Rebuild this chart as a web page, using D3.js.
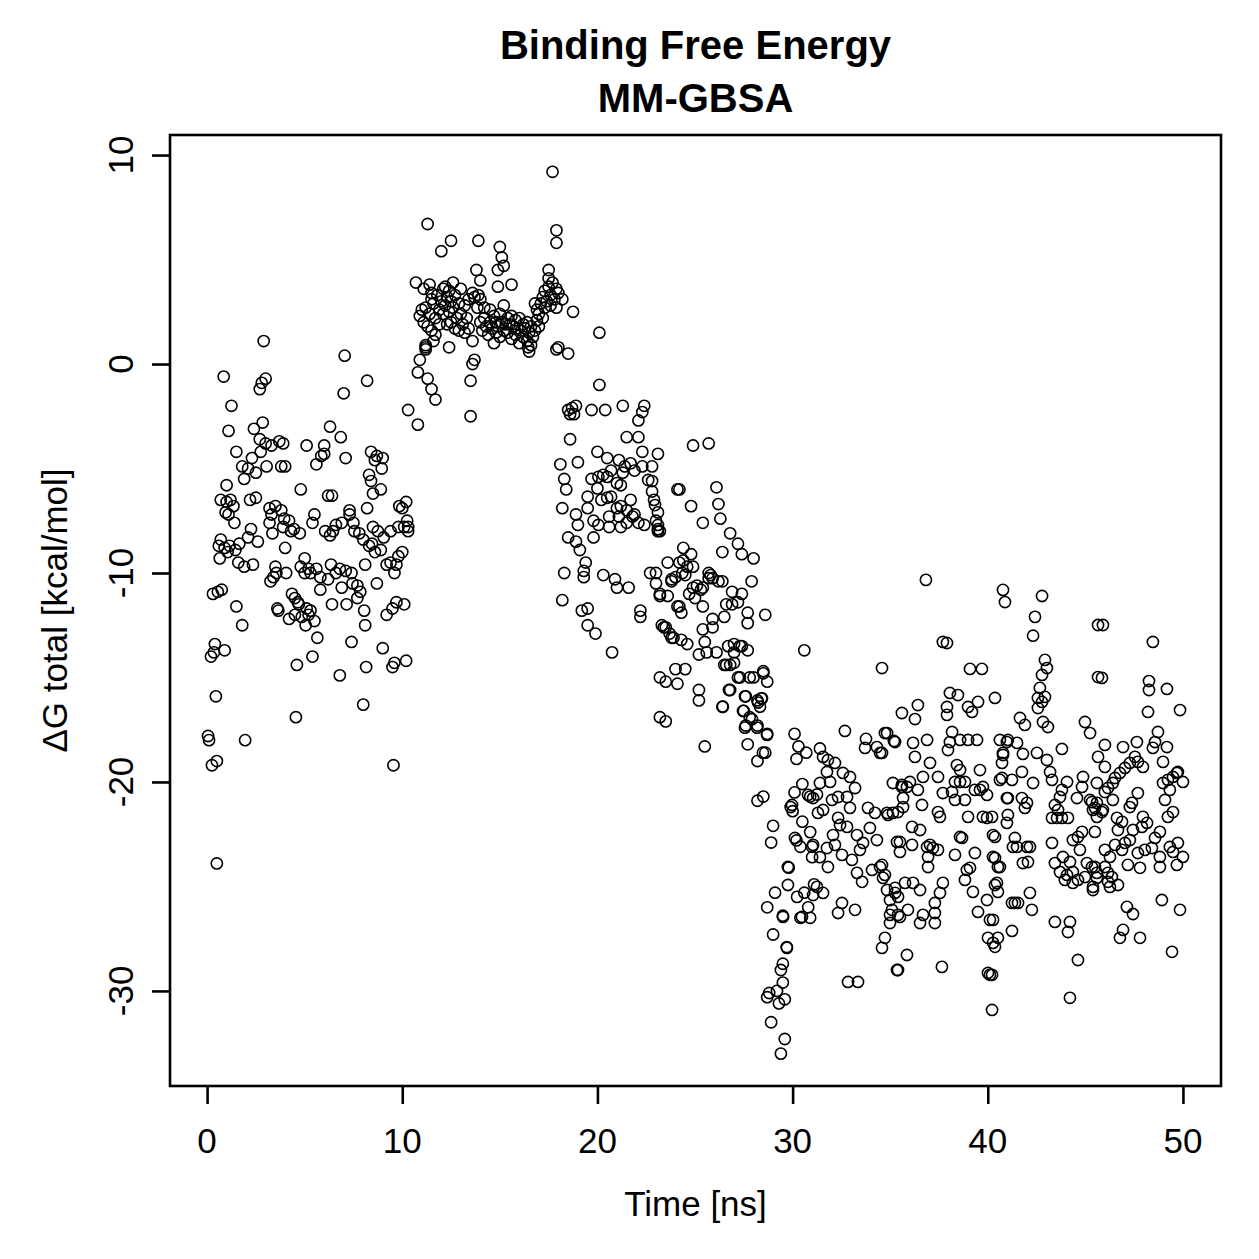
<!DOCTYPE html>
<html>
<head>
<meta charset="utf-8">
<script src="https://cdn.jsdelivr.net/npm/d3@7"></script>
<style>
html,body{margin:0;padding:0;background:#fff;}
svg{display:block;}
text{font-family:"Liberation Sans",Arial,Helvetica,sans-serif;fill:#000;}
</style>
</head>
<body>
<svg id="chart" width="1259" height="1259"></svg>
<script>
// ---- data (time in ns, ΔG total in kcal/mol) ----
const titleLines = ["Binding Free Energy", "MM-GBSA"];
const xLabel = "Time [ns]";
const yLabel = "ΔG total [kcal/mol]";
const xTicks = [0, 10, 20, 30, 40, 50];
const yTicks = [-30, -20, -10, 0, 10];

const seg0to10 = [
[0.05,-17.8],[0.1,-18.0],[0.2,-14.0],[0.25,-19.2],[0.3,-11.0],[0.35,-13.8],[0.4,-13.4],[0.45,-15.9],[0.5,-23.9],[0.5,-19.0],[0.55,-10.9],[0.6,-8.7],[0.65,-9.3],[0.7,-6.5],[0.7,-8.4],[0.75,-10.8],[0.85,-0.6],[0.9,-8.8],[0.9,-13.7],[0.95,-7.1],[1.0,-5.8],[1.0,-6.6],[1.05,-9.0],[1.1,-3.2],[1.1,-7.2],[1.15,-8.7],[1.2,-6.5],[1.25,-2.0],[1.35,-6.8],[1.4,-7.6],[1.45,-8.9],[1.5,-4.2],[1.5,-11.6],[1.6,-9.5],[1.65,-8.6],[1.8,-4.9],[1.8,-12.5],[1.9,-5.5],[1.9,-9.7],[1.95,-18.0],[2.1,-5.0],[2.1,-8.3],[2.2,-6.5],[2.25,-7.9],[2.3,-4.5],[2.35,-9.6],[2.4,-3.1],[2.5,-5.2],[2.5,-6.4],[2.6,-8.5],[2.7,-1.2],[2.7,-3.6],[2.75,-4.2],[2.8,-0.9],[2.85,-2.8],[2.9,1.1],[3.0,-0.7],[3.0,-3.8],[3.05,-4.9],[3.2,-6.9],[3.2,-7.6],[3.25,-10.4],[3.3,-7.2],[3.3,-3.9],[3.35,-8.1],[3.4,-10.2],[3.5,-6.8],[3.5,-9.7],[3.55,-10.0],[3.6,-11.7],[3.65,-11.8],[3.7,-3.7],[3.8,-7.0],[3.8,-4.9],[3.9,-3.8],[3.9,-7.8],[3.95,-7.4],[4.0,-4.9],[4.0,-8.8],[4.05,-10.0],[4.2,-7.5],[4.2,-12.2],[4.3,-8.0],[4.35,-11.0],[4.45,-7.9],[4.5,-12.0],[4.5,-11.2],[4.55,-16.9],[4.6,-14.4],[4.65,-11.4],[4.7,-11.5],[4.75,-8.1],[4.8,-6.0],[4.8,-9.7],[4.85,-12.1],[5.0,-9.3],[5.0,-10.0],[5.05,-12.5],[5.1,-11.7],[5.1,-3.9],[5.2,-9.8],[5.2,-12.0],[5.3,-10.0],[5.3,-11.8],[5.4,-7.6],[5.4,-14.0],[5.5,-7.2],[5.5,-12.3],[5.6,-4.8],[5.6,-9.8],[5.65,-13.1],[5.8,-10.2],[5.8,-10.8],[5.85,-4.4],[6.0,-3.9],[6.0,-4.3],[6.05,-8.0],[6.2,-10.3],[6.2,-6.3],[6.3,-3.0],[6.3,-8.2],[6.35,-9.6],[6.4,-6.3],[6.4,-11.5],[6.45,-8.0],[6.6,-10.0],[6.6,-7.7],[6.8,-9.8],[6.8,-14.9],[6.85,-3.5],[6.9,-10.7],[6.9,-7.6],[7.0,-1.4],[7.05,0.4],[7.1,-4.5],[7.1,-9.9],[7.15,-11.5],[7.3,-7.2],[7.3,-7.0],[7.4,-10.0],[7.4,-13.3],[7.45,-10.5],[7.5,-7.6],[7.55,-8.0],[7.7,-11.2],[7.7,-10.6],[7.8,-8.1],[7.85,-10.9],[8.0,-8.4],[8.0,-16.3],[8.05,-11.8],[8.1,-9.6],[8.1,-12.5],[8.15,-14.5],[8.2,-0.8],[8.2,-6.9],[8.3,-5.3],[8.3,-8.7],[8.4,-4.2],[8.4,-5.6],[8.45,-8.6],[8.5,-6.2],[8.5,-7.8],[8.6,-9.0],[8.6,-4.6],[8.7,-4.4],[8.7,-10.5],[8.75,-8.0],[8.9,-6.0],[8.9,-8.9],[8.95,-5.0],[9.0,-13.6],[9.0,-4.5],[9.05,-8.3],[9.2,-12.0],[9.2,-9.6],[9.4,-8.0],[9.4,-9.5],[9.5,-11.7],[9.5,-14.5],[9.55,-19.2],[9.6,-14.3],[9.6,-10.0],[9.7,-9.6],[9.7,-11.4],[9.8,-7.8],[9.8,-9.2],[9.85,-6.8],[10.0,-9.0],[10.0,-6.9],[10.1,-11.5],[10.1,-7.8],[10.2,-14.2],[10.2,-6.6],[10.25,-7.5],[10.3,-8.0],[10.3,-7.8]
];

const seg10to18 = [
[17.7,9.2],[11.3,6.7],[12.5,5.9],[12.0,5.4],[13.9,5.9],[15.0,5.6],[15.1,5.1],[15.2,4.7],[17.9,6.4],[17.9,5.8],[10.7,3.9],[13.8,4.5],[14.0,4.0],[14.9,4.5],[15.6,3.8],[14.9,3.7],[17.5,4.5],[17.5,4.1],[12.6,3.9],[11.5,3.4],[18.75,2.5],[20.1,1.5],[16.8,2.9],[18.0,3.4],[18.2,3.1],[11.2,0.8],[10.9,0.2],[10.8,-0.4],[11.3,-0.7],[11.5,-1.2],[11.7,-1.7],[10.3,-2.2],[10.8,-2.9],[13.5,-2.5],[13.5,-0.8],[13.7,0.2],[13.6,0.0],[12.4,0.8],[13.6,1.1],[18.0,0.8],[18.5,0.5],[16.5,0.6],[16.45,0.8],[11.6,1.1],[11.7,1.4],[14.7,1.0],
[10.9,2.3],[11.0,2.6],[11.1,2.0],[11.2,2.7],[11.3,1.8],[11.4,2.4],[11.5,3.1],[11.5,1.6],[11.6,2.9],[11.7,2.2],[11.8,3.3],[11.9,2.6],[11.9,1.9],
[12.0,3.0],[12.1,2.4],[12.1,3.6],[12.2,2.8],[12.3,3.2],[12.3,1.9],[12.4,2.5],[12.5,3.0],[12.5,2.0],[12.6,2.7],[12.7,3.3],[12.7,1.7],[12.8,2.2],[12.9,2.9],[12.9,1.6],[13.0,2.4],[13.0,3.6],[13.1,1.9],[13.2,2.8],[13.2,1.5],[13.3,2.2],[13.4,3.1],[13.4,1.7],
[13.6,3.4],[13.7,3.2],[13.9,3.3],[14.0,3.1],[14.2,2.7],[13.85,2.7],
[14.0,2.0],[14.1,1.6],[14.2,2.2],[14.3,1.8],[14.4,1.4],[14.5,2.0],[14.5,2.6],[14.6,1.7],[14.7,2.3],[14.8,1.5],[14.8,2.0],[14.9,1.8],[15.0,2.4],[15.0,1.3],[15.1,2.0],[15.2,1.6],[15.2,2.8],[15.3,1.9],
[15.4,2.2],[15.4,1.5],[15.5,1.9],[15.6,2.3],[15.6,1.2],[15.7,1.8],[15.8,2.1],[15.8,1.4],[15.9,1.7],[16.0,2.2],[16.0,1.0],[16.1,1.6],[16.2,1.9],[16.2,1.3],[16.3,1.7],[16.4,1.1],[16.4,2.0],[16.5,1.5],[16.6,0.9],[16.6,1.8],[16.7,1.3],[16.8,1.6],
[16.9,2.1],[16.9,2.6],[17.0,1.8],[17.0,2.4],[17.1,2.9],[17.2,2.2],[17.2,3.2],[17.3,2.7],[17.3,3.5],[17.4,3.0],[17.5,3.7],[17.6,3.3],[17.6,2.8],[17.7,3.9],[17.8,3.1],[17.9,3.6],[17.9,2.7],
[11.1,3.6],[11.4,3.8],[12.2,3.7],[12.4,3.5],[11.2,0.7],[11.2,0.9],[17.9,0.7]
];

const seg18to30 = [
[18.5,-2.2],[18.6,-2.4],[18.7,-2.1],[18.8,-2.4],[18.9,-2.0],[19.7,-2.2],[20.1,-1.0],[20.4,-2.2],[21.3,-2.0],[22.4,-2.0],[22.3,-2.3],[22.1,-2.7],
[18.6,-3.6],[21.5,-3.5],[22.1,-3.5],[20.0,-4.2],[20.5,-4.5],[18.1,-4.8],[19.0,-4.7],[22.3,-4.2],[23.1,-4.3],[21.1,-4.6],[21.3,-5.2],
[19.7,-5.5],[20.05,-5.4],[20.3,-5.3],[20.5,-5.4],[20.7,-5.1],[21.0,-5.7],[21.2,-5.8],[21.4,-4.9],[21.7,-4.75],[21.9,-5.1],[22.3,-4.9],[22.6,-5.55],[22.8,-6.1],[22.9,-6.5],[22.95,-6.75],[23.1,-7.1],[19.5,-6.35],[20.0,-5.95],[20.2,-6.5],[20.5,-6.4],[20.7,-6.35],[19.5,-6.9],[19.8,-7.5],[20.05,-7.7],[20.6,-7.3],[20.6,-7.8],[21.0,-6.9],[21.2,-6.8],[21.5,-7.0],[21.7,-6.5],[21.8,-7.3],[21.9,-7.2],[22.1,-7.6],[22.4,-7.7],[21.2,-7.8],[21.5,-7.6],[23.1,-7.7],[23.1,-8.0],[21.1,-7.3],
[24.1,-6.0],[18.3,-5.5],[18.4,-6.0],[18.2,-6.9],[18.9,-7.2],[19.0,-7.7],[18.5,-8.3],[18.9,-8.5],[19.1,-8.9],[23.2,-8.0],[19.8,-8.3],[19.4,-9.5],[19.3,-9.9],[19.3,-10.2],[18.3,-10.0],[20.3,-10.1],[20.9,-10.3],[21.0,-10.7],[21.6,-10.7],[18.2,-11.3],[19.2,-11.8],[19.5,-11.7],[19.5,-12.5],[19.9,-12.9],[20.75,-13.8],[22.2,-11.8],[22.2,-12.1],[22.7,-10.0],[23.0,-10.5],[23.6,-9.5],[23.2,-11.1],[23.6,-11.1],[23.8,-10.4],[23.4,-12.6],[23.7,-12.9],[23.9,-13.1],[24.2,-9.5],[24.1,-11.6],
[24.9,-3.9],[25.7,-3.8],[24.2,-6.0],[26.1,-5.9],[24.8,-6.8],[26.2,-6.7],[26.3,-7.4],[25.4,-7.6],[26.8,-8.1],[27.2,-8.6],[26.4,-9.0],[28.0,-9.3],[27.4,-9.1],[27.9,-10.4],[28.6,-12.0],[24.4,-8.8],[24.8,-9.1],[24.4,-9.4],[24.6,-9.7],[24.9,-9.7],[23.8,-10.3],[23.2,-11.0],[25.7,-10.0],[26.4,-10.4],[25.1,-10.6],[25.4,-10.7],[24.7,-11.0],[25.0,-11.2],[25.4,-11.6],[24.2,-11.6],[24.3,-11.9],[26.9,-11.5],[27.7,-11.9],[27.7,-12.4],[26.5,-12.1],[25.9,-12.2],[25.9,-12.6],[25.4,-12.7],[23.3,-12.5],[23.5,-12.6],[23.8,-13.1],[24.3,-13.2],[24.6,-13.4],[25.2,-13.9],[25.6,-13.8],[26.1,-13.8],[26.5,-14.4],[26.8,-14.4],[27.0,-13.8],[27.3,-13.5],[27.7,-13.7],[25.5,-13.3],[23.2,-15.0],[23.5,-15.2],[24.0,-14.6],[24.1,-15.3],[24.5,-14.6],[25.2,-15.6],[25.2,-16.1],[26.4,-16.4],[26.8,-15.6],[27.2,-15.0],[27.8,-15.0],[28.5,-14.7],[28.7,-15.2],[27.6,-15.9],[27.5,-16.6],[28.2,-16.1],[28.4,-16.0],[27.8,-16.9],[28.2,-17.3],[28.7,-17.7],[27.6,-17.3],[27.7,-18.2],[28.6,-18.6],[28.2,-19.0],[23.2,-16.9],[23.5,-17.1],[25.5,-18.3],
[22.8,-4.9],[22.8,-5.6],[23.0,-7.5],[23.1,-7.9],[23.0,-10.0],[24.0,-10.2],[24.35,-10.0],[24.5,-10.1],[24.9,-10.7],[25.3,-10.8],[25.7,-10.25],[25.9,-10.25],[26.2,-10.4],[25.8,-10.1],[26.9,-10.9],[27.4,-11.0],[27.2,-11.4],[26.6,-11.5],
[26.7,-13.5],[27.0,-13.4],[27.4,-13.5],[26.6,-14.4],[27.0,-14.3],[27.3,-15.0],[28.0,-15.0],[28.5,-14.8],
[26.74,-15.6],[26.43,-16.4],[27.56,-15.9],[27.46,-16.6],[27.92,-17.0],[27.56,-17.4],[28.23,-16.2],[28.43,-16.0],[28.33,-16.4],[28.18,-17.4],[28.69,-17.75],[28.48,-18.6],
[28.2,-20.9],[28.5,-20.7],[29.0,-22.1],[28.9,-22.9],[29.8,-24.1],[29.1,-25.3],[28.7,-26.0],[29.5,-26.4],[29.0,-27.3],[29.7,-27.9],[29.5,-28.7],[29.4,-29.0],[29.5,-29.6],[28.8,-30.1],[28.7,-30.3],[29.3,-30.6],[29.6,-30.4],[29.2,-30.0],[28.9,-31.5],[29.6,-32.3],[29.4,-33.0],[30.6,-13.7]
];

const seg30to40 = [
[30.1,-17.7],[30.3,-18.3],[30.2,-18.9],[30.7,-18.6],[31.4,-18.4],[30.1,-20.5],[30.5,-20.1],[30.9,-20.7],[31.25,-20.6],[31.4,-20.05],[29.9,-21.2],[30.0,-21.4],[30.5,-21.9],[30.9,-22.4],[30.2,-22.8],[30.4,-23.1],[31.0,-23.1],[31.0,-23.6],[31.4,-23.6],[30.6,-25.3],[30.8,-26.0],[30.4,-26.5],[30.9,-26.5],[31.1,-24.9],
[32.68,-17.56],[33.76,-17.94],[33.71,-18.37],[34.32,-18.33],[34.48,-18.61],[34.84,-17.66],[35.19,-18.04],[35.6,-16.7],[31.56,-18.8],[31.81,-18.95],[32.17,-19.09],[31.76,-19.52],[32.58,-19.57],[32.94,-19.76],[33.2,-20.29],[30.79,-20.62],[31.05,-20.77],[31.92,-20.0],[35.14,-20.05],[35.6,-20.14],[35.86,-20.24],[29.97,-21.1],[31.3,-21.48],[31.56,-21.34],[32.02,-20.86],[32.33,-20.72],[32.79,-20.72],[32.94,-21.24],[33.86,-21.24],[34.22,-21.48],[34.89,-21.58],[35.4,-21.44],[35.66,-21.2],[32.33,-21.72],[32.43,-22.06],[32.79,-22.15],[30.12,-22.68],[31.05,-23.01],[31.76,-23.16],[32.07,-22.54],[32.17,-23.01],[33.3,-22.54],[33.61,-22.92],[33.96,-22.2],[34.32,-22.78],[33.45,-23.25],[35.35,-22.87],[35.5,-23.35],[31.81,-24.07],[32.53,-23.49],[33.04,-23.73],[33.3,-24.35],[29.76,-24.07],[33.56,-24.78],[34.07,-24.21],[34.48,-24.07],[34.63,-24.59],[34.84,-25.17],[35.25,-25.31],[29.76,-24.93],[30.23,-25.5],[31.25,-25.02],[31.56,-25.31],[31.05,-25.41],[29.51,-26.46],[30.48,-26.46],[32.33,-26.27],[32.53,-25.79],[33.2,-26.12],[35.09,-26.12],[35.4,-26.36],[34.99,-26.75],[34.73,-27.46],[34.58,-27.94],[29.71,-27.94],[35.4,-29.0],[32.84,-29.57],[33.35,-29.57],
[36.83,-10.33],[37.7,-13.3],[37.91,-13.35],[34.58,-14.55],[39.09,-14.59],[39.7,-14.59],[38.06,-15.74],[38.47,-15.84],[37.91,-16.41],[37.91,-16.79],[38.99,-16.41],[39.19,-16.65],[39.5,-16.17],[40.37,-15.98],[36.42,-16.32],[36.27,-16.99],[34.73,-17.66],[35.25,-18.09],[36.17,-18.13],[36.89,-17.99],[36.27,-18.8],[38.17,-17.61],[38.06,-18.09],[37.96,-18.47],[38.58,-17.99],[38.99,-17.99],[39.45,-17.99],[34.58,-18.61],[37.04,-19.09],[36.68,-19.76],[37.45,-19.76],[35.6,-20.24],[36.01,-20.0],[36.42,-20.38],[38.42,-19.19],[38.58,-19.43],[38.32,-20.0],[38.58,-20.0],[38.83,-20.0],[39.6,-19.43],[39.34,-20.38],[39.6,-20.38],[39.75,-20.24],[39.96,-20.62],[34.84,-21.48],[35.14,-21.48],[35.66,-20.77],[36.63,-21.1],[37.45,-21.44],[37.55,-21.67],[37.7,-20.53],[38.17,-20.48],[38.32,-20.86],[38.83,-20.86],[38.99,-21.67],[39.75,-21.67],[39.96,-21.72],[36.12,-22.15],[36.53,-22.3],[35.5,-22.87],[36.12,-23.01],[36.89,-23.11],[37.04,-23.01],[37.19,-23.16],[37.45,-23.25],[36.94,-23.59],[36.94,-24.07],[38.58,-22.63],[38.68,-22.68],[38.32,-23.49],[39.34,-23.4],[38.93,-24.21],[39.09,-24.11],[38.83,-24.69],[39.24,-25.26],[39.96,-25.65],[39.5,-26.22],[34.58,-23.97],[34.73,-24.45],[35.25,-25.07],[35.4,-25.5],[34.99,-25.65],[35.76,-24.83],[36.17,-24.83],[36.53,-25.17],[35.91,-26.12],[35.5,-26.46],[37.7,-24.83],[37.55,-25.31],[37.29,-25.79],[37.29,-26.27],[37.29,-26.75],[36.68,-26.36],[36.53,-26.75],[34.99,-26.36],[35.86,-28.28],[35.35,-29.0],[37.65,-28.85],[40.01,-27.46],[40.27,-27.7],[40.01,-29.14],[40.11,-29.23],[40.22,-30.91]
];

const seg40to50 = [
[40.78,-10.81],[40.88,-11.39],[40.62,-17.99],[40.98,-18.09],[40.78,-18.61],[40.73,-19.09],[40.62,-19.9],[40.98,-20.77],[40.27,-22.54],[40.37,-23.64],[40.52,-24.07],[40.47,-24.83],[40.11,-26.6],
[42.78,-11.1],[42.42,-12.1],[42.32,-13.0],[42.93,-14.16],[43.03,-14.55],[42.78,-14.88],[42.67,-15.5],[42.57,-15.98],[42.78,-16.17],[42.93,-15.93],[42.57,-16.46],[41.65,-16.94],[41.9,-17.27],[42.83,-17.13],[43.08,-17.37],[44.98,-17.13],[45.24,-17.66],[45.65,-12.49],[45.65,-14.98],[41.03,-17.99],[41.5,-18.13],[40.78,-18.71],[40.73,-19.81],[41.24,-19.9],[41.75,-19.52],[41.8,-18.66],[42.52,-18.61],[43.03,-18.95],[43.19,-19.52],[43.29,-19.9],[43.8,-18.42],[42.32,-20.05],[44.06,-20.0],[43.8,-20.38],[44.88,-19.76],[44.83,-20.24],[44.57,-20.77],[45.24,-20.86],[45.39,-21.34],[45.59,-21.0],[41.03,-20.77],[41.75,-20.77],[41.9,-21.24],[42.01,-21.0],[43.44,-21.1],[43.7,-20.72],[43.6,-21.34],[43.29,-21.72],[43.55,-21.72],[43.8,-21.72],[44.11,-21.72],[40.22,-21.67],[40.37,-22.63],[41.03,-21.58],[40.98,-21.96],[41.39,-22.68],[41.5,-23.11],[41.29,-23.11],[42.01,-23.11],[42.16,-23.11],[43.29,-22.92],[44.36,-22.78],[44.62,-22.63],[44.83,-22.39],[44.72,-23.25],[43.44,-23.88],[43.85,-23.59],[44.21,-23.83],[43.7,-24.31],[44.06,-24.45],[44.36,-24.31],[43.95,-24.69],[44.36,-24.83],[44.62,-24.69],[44.98,-24.55],[45.08,-23.88],[45.39,-25.02],[45.49,-24.07],[45.59,-24.59],[40.27,-23.59],[40.62,-24.07],[40.37,-24.93],[40.52,-25.26],[41.8,-23.88],[42.06,-23.83],[42.16,-25.31],[42.26,-26.12],[41.24,-25.79],[41.39,-25.79],[41.55,-25.79],[41.24,-27.13],[43.44,-26.7],[44.21,-26.7],[44.11,-27.18],[40.27,-26.6],[40.52,-27.46],[40.37,-27.89],[44.62,-28.52],[44.21,-30.33],[40.22,-29.23],
[45.9,-12.49],[48.46,-13.3],[45.85,-15.02],[48.26,-15.17],[48.26,-15.6],[49.18,-15.55],[48.21,-16.65],[49.85,-16.56],[48.72,-17.61],[48.57,-18.09],[49.18,-18.33],[48.46,-18.37],[46.0,-18.23],[46.93,-18.33],[47.64,-18.09],[45.65,-18.8],[46.0,-19.28],[47.54,-18.8],[47.69,-19.04],[47.95,-19.28],[47.28,-19.09],[47.03,-19.33],[46.77,-19.57],[46.52,-19.81],[46.41,-20.05],[46.16,-20.29],[48.98,-19.04],[48.98,-20.05],[49.23,-19.9],[49.49,-19.76],[49.74,-19.52],[50.0,-20.0],[49.69,-19.57],[49.33,-20.38],[49.08,-20.86],[45.59,-20.05],[46.0,-20.48],[46.41,-20.86],[47.39,-21.0],[47.69,-20.53],[47.28,-21.2],[45.34,-20.96],[45.49,-21.24],[45.9,-21.34],[45.59,-21.67],[45.85,-21.44],[45.49,-22.39],[49.49,-21.44],[49.23,-21.67],[46.62,-21.72],[46.88,-21.91],[46.67,-22.3],[47.44,-22.3],[47.95,-21.67],[48.16,-21.96],[47.9,-22.15],[48.82,-22.39],[48.57,-22.68],[47.28,-22.78],[47.03,-22.92],[46.0,-23.25],[46.52,-23.01],[46.26,-23.59],[46.88,-23.25],[47.18,-23.97],[47.8,-24.11],[47.69,-23.4],[48.05,-23.25],[48.41,-23.16],[48.82,-23.59],[48.82,-24.07],[49.33,-23.11],[49.49,-23.35],[49.74,-22.92],[50.0,-23.59],[49.69,-23.97],[45.34,-24.07],[45.59,-24.35],[46.0,-24.07],[46.16,-24.35],[46.16,-24.78],[46.36,-24.55],[46.67,-24.93],[46.26,-25.02],[45.39,-25.17],[48.92,-25.65],[49.85,-26.12],[47.13,-25.98],[47.44,-26.32],[46.93,-27.08],[46.77,-27.46],[47.8,-27.46],[49.44,-28.13]
];

const allPoints = [].concat(seg0to10, seg10to18, seg18to30, seg30to40, seg40to50);

// ---- layout ----
const W = 1259, H = 1259;
const plot = {left: 170, right: 1221, top: 135, bottom: 1086};
const svg = d3.select("#chart");
svg.append("rect").attr("width", W).attr("height", H).attr("fill", "#fff");

const x = d3.scaleLinear().domain([-1.9, 51.95]).range([plot.left, plot.right]);
const y = d3.scaleLinear().domain([-34.55, 10.96]).range([plot.bottom, plot.top]);

// points
svg.append("g")
  .selectAll("circle")
  .data(allPoints)
  .join("circle")
  .attr("cx", d => x(d[0]))
  .attr("cy", d => y(d[1]))
  .attr("r", 5.6)
  .attr("fill", "none")
  .attr("stroke", "#000")
  .attr("stroke-width", 1.6);

// box
svg.append("rect")
  .attr("x", plot.left).attr("y", plot.top)
  .attr("width", plot.right - plot.left).attr("height", plot.bottom - plot.top)
  .attr("fill", "none").attr("stroke", "#000").attr("stroke-width", 2.6);

// x axis
const gx = svg.append("g").attr("transform", `translate(0,${plot.bottom})`)
  .call(d3.axisBottom(x).tickValues(xTicks).tickSize(18).tickFormat(""));
gx.select(".domain").remove();
gx.selectAll(".tick line").attr("stroke", "#000").attr("stroke-width", 2.6);
svg.append("g").selectAll("text").data(xTicks).join("text")
  .attr("x", d => x(d)).attr("y", 1153)
  .attr("text-anchor", "middle")
  .attr("font-size", 35)
  .text(d => String(d));

// y axis
const gy = svg.append("g").attr("transform", `translate(${plot.left},0)`)
  .call(d3.axisLeft(y).tickValues(yTicks).tickSize(18).tickFormat(""));
gy.select(".domain").remove();
gy.selectAll(".tick line").attr("stroke", "#000").attr("stroke-width", 2.6);
svg.append("g").selectAll("text").data(yTicks).join("text")
  .attr("transform", d => `translate(133,${y(d)}) rotate(-90)`)
  .attr("text-anchor", "middle")
  .attr("font-size", 35)
  .text(d => String(d));

// axis titles
svg.append("text")
  .attr("x", (plot.left + plot.right) / 2).attr("y", 1216)
  .attr("text-anchor", "middle").attr("font-size", 35)
  .text(xLabel);
svg.append("text")
  .attr("transform", `translate(67,${(plot.top + plot.bottom) / 2}) rotate(-90)`)
  .attr("text-anchor", "middle").attr("font-size", 35)
  .text(yLabel);

// title
svg.append("g").selectAll("text").data(titleLines).join("text")
  .attr("x", (plot.left + plot.right) / 2)
  .attr("y", (d, i) => 59 + i * 53)
  .attr("text-anchor", "middle")
  .attr("font-size", 40)
  .attr("font-weight", "bold")
  .text(d => d);
</script>
</body>
</html>
